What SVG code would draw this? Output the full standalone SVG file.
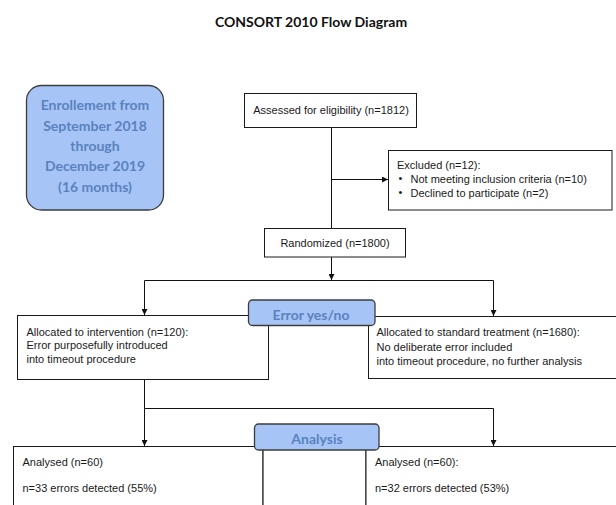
<svg xmlns="http://www.w3.org/2000/svg" width="616" height="505" viewBox="0 0 616 505">
<style>
.box{fill:#ffffff;stroke:#1a1a1a;stroke-width:1}
.rbox{fill:#a6c4f6;stroke:#3c3c3c;stroke-width:1.3}
.t{font-family:"Liberation Sans",Arial,sans-serif;font-size:11px;fill:#1a1a1a}
.c{text-anchor:middle}
.bt{font-family:Lato,"Open Sans",sans-serif;font-weight:bold;fill:#5a82bf;text-anchor:middle}
.ln{fill:none;stroke:#111;stroke-width:1}
.title{font-family:Lato,"Open Sans",sans-serif;font-weight:bold;font-size:14px;fill:#111;text-anchor:middle}
</style>
<defs>
<marker id="ah" markerUnits="userSpaceOnUse" markerWidth="7" markerHeight="6" refX="6" refY="3" orient="auto">
<path d="M0,0 L6,3 L0,6 Z" fill="#111"/>
</marker>
</defs>
<rect width="616" height="505" fill="#ffffff"/>
<text class="title" x="311" y="26.5">CONSORT 2010 Flow Diagram</text>

<g id="connectors">
<path class="ln" d="M331.5,127 V229"/>
<path class="ln" d="M331.5,179.5 H388" marker-end="url(#ah)"/>
<path class="ln" d="M331.5,257 V280" marker-end="url(#ah)"/>
<path class="ln" d="M144.5,280.5 H493.5"/>
<path class="ln" d="M144.5,280.5 V315" marker-end="url(#ah)"/>
<path class="ln" d="M493.5,280.5 V316" marker-end="url(#ah)"/>
<path class="ln" d="M144.5,379 V408.5 H493.5"/>
<path class="ln" d="M144.5,408.5 V446" marker-end="url(#ah)"/>
<path class="ln" d="M493.5,408.5 V446" marker-end="url(#ah)"/>
</g>

<g id="enrollment">
<rect class="rbox" x="26.5" y="85.5" width="137" height="124.5" rx="15"/>
<text class="bt" font-size="14" x="95" y="110">Enrollement from</text>
<text class="bt" font-size="14" x="95" y="130.5">September 2018</text>
<text class="bt" font-size="14" x="95" y="150.5">through</text>
<text class="bt" font-size="14" x="95" y="171">December 2019</text>
<text class="bt" font-size="14" x="95" y="191.5">(16 months)</text>
</g>

<g id="assessed">
<rect class="box" x="244.5" y="93.5" width="172" height="34"/>
<text class="t c" x="331" y="114">Assessed for eligibility (n=1812)</text>
</g>

<g id="excluded">
<rect class="box" x="388.5" y="150.5" width="223.5" height="59.5"/>
<text class="t" x="397" y="169">Excluded (n=12):</text>
<text class="t" font-size="8" x="398.5" y="182">•</text>
<text class="t" x="410.5" y="183">Not meeting inclusion criteria (n=10)</text>
<text class="t" font-size="8" x="398.5" y="196.3">•</text>
<text class="t" x="410.5" y="197.3">Declined to participate (n=2)</text>
</g>

<g id="randomized">
<rect class="box" x="264.5" y="228.5" width="141" height="28.5"/>
<text class="t c" x="335" y="247">Randomized (n=1800)</text>
</g>

<g id="intervention">
<rect class="box" x="17.5" y="315.5" width="251" height="64"/>
<text class="t" x="26.5" y="336.3">Allocated to intervention (n=120):</text>
<text class="t" x="26.5" y="349.3">Error purposefully introduced</text>
<text class="t" x="26.5" y="362.5">into timeout procedure</text>
</g>

<g id="standard">
<rect class="box" x="368.5" y="316.5" width="260" height="62"/>
<text class="t" x="376.5" y="336">Allocated to standard treatment (n=1680):</text>
<text class="t" x="376.5" y="350.7">No deliberate error included</text>
<text class="t" x="376.5" y="364.7">into timeout procedure, no further analysis</text>
</g>

<g id="error-yes-no">
<rect class="rbox" x="248.5" y="300" width="126.5" height="25.5" rx="4"/>
<text class="bt" font-size="14" x="311" y="320">Error yes/no</text>
</g>

<g id="analysed-left">
<rect class="box" x="13.5" y="446.5" width="249.5" height="70"/>
<text class="t" x="22.5" y="466">Analysed (n=60)</text>
<text class="t" x="22.5" y="491.5">n=33 errors detected (55%)</text>
</g>

<g id="middle">
<rect class="box" x="263" y="446.5" width="103" height="70" style="stroke:#333;stroke-width:1.3"/>
</g>

<g id="analysed-right">
<rect class="box" x="366" y="446.5" width="262" height="70"/>
<text class="t" x="375" y="466">Analysed (n=60):</text>
<text class="t" x="375" y="491.5">n=32 errors detected (53%)</text>
</g>

<g id="analysis">
<rect class="rbox" x="254.5" y="424" width="124.5" height="26" rx="4"/>
<text class="bt" font-size="14" x="317" y="444">Analysis</text>
</g>
</svg>
